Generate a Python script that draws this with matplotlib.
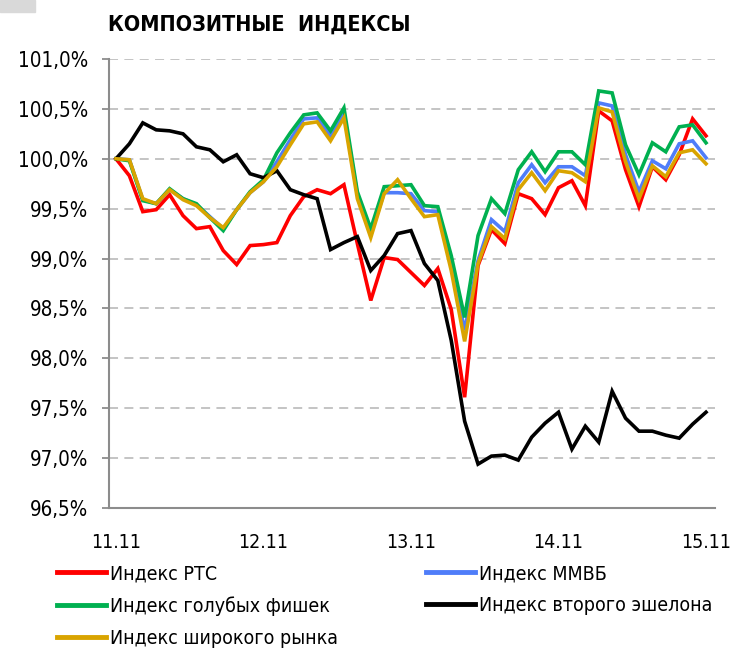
import matplotlib
matplotlib.use('Agg')
import matplotlib.pyplot as plt
from matplotlib.patches import Rectangle
from matplotlib.ticker import FuncFormatter, MultipleLocator

# intraday points, 11 steps per trading day (11.11 - 15.11)
tick_pos = [0, 11, 22, 33, 44]
tick_labels = ['11.11', '12.11', '13.11', '14.11', '15.11']

rts = [100.00, 99.83, 99.47, 99.49, 99.64, 99.43, 99.30, 99.32, 99.08, 98.94,
       99.13, 99.14, 99.16, 99.43, 99.62, 99.69, 99.65, 99.74, 99.15, 98.58,
       99.01, 98.99, 98.86, 98.73, 98.90, 98.49, 97.61, 98.93, 99.29, 99.15,
       99.65, 99.60, 99.44, 99.71, 99.78, 99.53, 100.48, 100.38, 99.89, 99.52,
       99.92, 99.79, 100.04, 100.40, 100.23]
micex = [100.00, 99.99, 99.59, 99.55, 99.69, 99.60, 99.54, 99.42, 99.30, 99.49,
         99.66, 99.77, 99.97, 100.19, 100.40, 100.41, 100.23, 100.46, 99.64, 99.24,
         99.66, 99.66, 99.65, 99.48, 99.47, 98.93, 98.28, 98.98, 99.39, 99.27,
         99.76, 99.94, 99.76, 99.92, 99.92, 99.83, 100.56, 100.53, 100.04, 99.67,
         99.98, 99.90, 100.15, 100.18, 100.01]
blue_chips = [100.00, 99.98, 99.58, 99.55, 99.70, 99.60, 99.55, 99.41, 99.28, 99.49,
              99.67, 99.79, 100.06, 100.26, 100.44, 100.46, 100.28, 100.51, 99.67, 99.30,
              99.72, 99.73, 99.74, 99.53, 99.52, 99.03, 98.41, 99.23, 99.60, 99.45,
              99.89, 100.07, 99.87, 100.07, 100.07, 99.94, 100.68, 100.66, 100.14, 99.84,
              100.16, 100.07, 100.32, 100.34, 100.16]
second_tier = [100.00, 100.15, 100.36, 100.29, 100.28, 100.25, 100.12, 100.09, 99.97, 100.04,
               99.85, 99.81, 99.88, 99.69, 99.64, 99.60, 99.09, 99.16, 99.22, 98.88,
               99.03, 99.25, 99.28, 98.95, 98.78, 98.18, 97.37, 96.94, 97.02, 97.03,
               96.98, 97.21, 97.35, 97.46, 97.09, 97.32, 97.16, 97.67, 97.40, 97.27,
               97.27, 97.23, 97.20, 97.34, 97.46]
broad = [100.00, 99.99, 99.60, 99.55, 99.69, 99.59, 99.53, 99.41, 99.31, 99.49,
         99.66, 99.77, 99.92, 100.14, 100.35, 100.37, 100.18, 100.41, 99.60, 99.21,
         99.65, 99.79, 99.60, 99.42, 99.44, 98.88, 98.17, 98.95, 99.32, 99.20,
         99.69, 99.86, 99.68, 99.88, 99.86, 99.77, 100.51, 100.47, 99.97, 99.60,
         99.93, 99.82, 100.06, 100.09, 99.95]

names = ['Индекс РТС', 'Индекс ММВБ', 'Индекс голубых фишек',
         'Индекс второго эшелона', 'Индекс широкого рынка']
colors = ['#FF0000', '#4F7DF9', '#00B050', '#000000', '#D9A400']
series = [rts, micex, blue_chips, second_tier, broad]

plt.rcParams['font.family'] = ['DejaVu Sans']
plt.rcParams['font.stretch'] = 'condensed'

fig = plt.figure(figsize=(7.34, 6.51), dpi=100)
fig.patches.append(Rectangle((0, 1 - 12 / 651), 35 / 734, 12 / 651,
                             transform=fig.transFigure, color='#D9D9D9'))

ax = fig.add_axes([109 / 734, 1 - 508 / 651, 606 / 734, 449 / 651])

x = list(range(len(rts)))
lines = []
for s, c, n in zip(series, colors, names):
    ln, = ax.plot(x, s, color=c, lw=2.6, label=n, solid_joinstyle='miter')
    lines.append(ln)

ax.set_xlim(-0.52, 44.67)
ax.set_ylim(96.5, 101.0)
ax.yaxis.set_major_locator(MultipleLocator(0.5))
ax.yaxis.set_major_formatter(FuncFormatter(lambda v, p: ('%.1f%%' % v).replace('.', ',')))
ax.set_xticks(tick_pos)
ax.set_xticklabels(tick_labels)

ax.grid(axis='y', color='#BFBFBF', linestyle=(0, (5, 3.5)), lw=1.3)
ax.set_axisbelow(True)
for sp in ['top', 'right']:
    ax.spines[sp].set_visible(False)
for sp in ['left', 'bottom']:
    ax.spines[sp].set_color('#8C8C8C')
    ax.spines[sp].set_linewidth(1.5)

ax.tick_params(axis='y', length=5, width=1.3, color='#8C8C8C', pad=10, labelsize=14.8)
ax.tick_params(axis='x', length=0, pad=18, labelsize=14)

fig.text(108 / 734, 1 - 25 / 651, 'КОМПОЗИТНЫЕ  ИНДЕКСЫ', fontsize=15.5,
         fontweight='bold', va='center', ha='left')

order = [0, 2, 4, 1, 3]
leg = fig.legend([lines[i] for i in order], [names[i] for i in order],
                 loc='upper left', bbox_to_anchor=(57 / 734, 1 - 564 / 651),
                 ncol=2, frameon=False, fontsize=14, borderpad=0, borderaxespad=0,
                 handlelength=2.5, handletextpad=0.25, columnspacing=4.5,
                 labelspacing=0.68)
for h in leg.get_lines():
    h.set_linewidth(3.5)

plt.savefig('out.png', dpi=100)
